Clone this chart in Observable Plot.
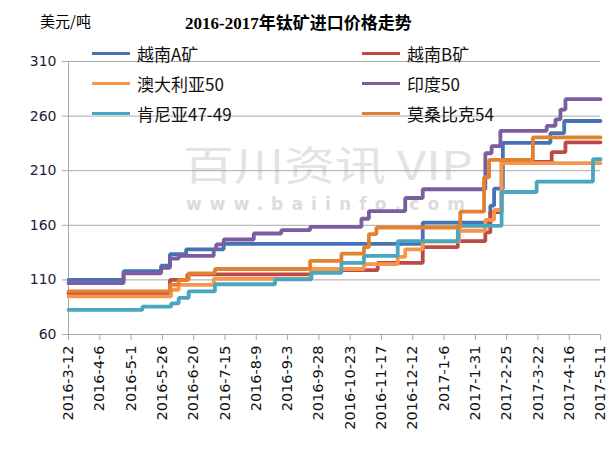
<!DOCTYPE html>
<html>
<head>
<meta charset="utf-8">
<script src="https://cdn.jsdelivr.net/npm/d3@7"></script>
<script src="https://cdn.jsdelivr.net/npm/@observablehq/plot@0.6"></script>
<style>
  body { margin: 0; background: #fff; }
  #wrap { position: relative; width: 611px; height: 455px; overflow: hidden; background: #fff; }
  #unit { position: absolute; left: 40px; top: 10px; font: 15px "Noto Sans CJK SC", sans-serif; color: #000; }
  #title { position: absolute; left: 185px; top: 9px; font: bold 17px "Liberation Serif", "Noto Sans CJK SC", serif; color: #000; white-space: nowrap; }
  #wm { position: absolute; left: 0; top: 0; z-index: 0; }
  #chart { position: absolute; left: 0; top: 40px; z-index: 1; }
  #legend { position: absolute; left: 0; top: 0; z-index: 2; width: 611px; height: 140px; }
  .lg { position: absolute; display: flex; align-items: center; font: 17px "Noto Sans CJK SC", sans-serif; color: #111; white-space: nowrap; }
  .lg span.k { display: inline-block; width: 38px; height: 3px; margin-right: 7px; }
</style>
</head>
<body>
<div id="wrap">
  <div id="unit">美元/吨</div>
  <div id="title">2016-2017年钛矿进口价格走势</div>
  <svg id="wm" width="611" height="455">
    <text x="183" y="180" textLength="290" lengthAdjust="spacingAndGlyphs" font-family="Noto Sans CJK SC" font-size="40" fill="#e3e3e3">百川资讯 VIP</text>
    <text x="186" y="210" textLength="279" lengthAdjust="spacing" font-family="DejaVu Sans" font-weight="bold" font-size="17" fill="#dcdcdc">www.baiinfo.com</text>
  </svg>
  <div id="chart"></div>
  <div id="legend"></div>
</div>
<script>
// ---- data ----
const seriesNames = ["越南A矿", "越南B矿", "澳大利亚50", "印度50", "肯尼亚47-49", "莫桑比克54"];
const seriesColors = ["#4573B5", "#BC4A47", "#F7964A", "#7B5EA0", "#48A6BF", "#E2812F"];

const vietnamA = [
  ["2016-03-12", 110], ["2016-04-25", 118], ["2016-05-25", 123], ["2016-06-01", 133.5],
  ["2016-06-14", 138], ["2016-07-14", 143], ["2016-12-20", 162.5], ["2017-02-12", 178],
  ["2017-02-15", 193.5], ["2017-02-22", 235.5], ["2017-04-01", 244.5], ["2017-04-12", 255.5]
];
const vietnamB = [
  ["2016-03-12", 98], ["2016-06-01", 110], ["2016-06-15", 115], ["2016-09-22", 119],
  ["2016-11-14", 125.5], ["2016-12-20", 140], ["2017-01-17", 145.5], ["2017-02-08", 153.5],
  ["2017-02-12", 172], ["2017-02-21", 218], ["2017-04-02", 227], ["2017-04-13", 236]
];
const australia50 = [
  ["2016-03-12", 95], ["2016-06-02", 101], ["2016-06-08", 105.5], ["2016-07-06", 111],
  ["2016-09-22", 120], ["2016-11-03", 124.5], ["2016-11-30", 131], ["2016-12-06", 138],
  ["2016-12-20", 145], ["2017-01-18", 155], ["2017-02-08", 165], ["2017-02-15", 174],
  ["2017-02-21", 217]
];
const india50 = [
  ["2016-03-12", 107], ["2016-04-25", 116], ["2016-05-25", 121], ["2016-06-01", 129.5],
  ["2016-06-08", 132], ["2016-07-06", 138], ["2016-07-08", 142.5], ["2016-07-14", 147],
  ["2016-08-07", 152.5], ["2016-08-29", 155.5], ["2016-09-21", 158.5], ["2016-11-01", 166],
  ["2016-11-07", 173], ["2016-12-06", 185], ["2016-12-20", 193], ["2017-02-08", 226],
  ["2017-02-13", 232.5], ["2017-02-20", 246.5], ["2017-03-29", 251], ["2017-04-05", 257],
  ["2017-04-09", 266], ["2017-04-13", 275.5]
];
const kenya4749 = [
  ["2016-03-12", 82.5], ["2016-05-10", 85.5], ["2016-06-02", 88.5], ["2016-06-08", 93.5],
  ["2016-06-16", 99.5], ["2016-07-07", 106], ["2016-08-24", 110.5], ["2016-09-22", 116.5],
  ["2016-10-16", 125.5], ["2016-11-03", 132], ["2016-11-30", 145.5], ["2017-01-17", 159.5],
  ["2017-02-21", 190.5], ["2017-03-21", 200], ["2017-05-05", 220.5]
];
const mozambique54 = [
  ["2016-03-12", 99.5], ["2016-06-01", 105.5], ["2016-06-08", 110], ["2016-06-16", 116],
  ["2016-07-07", 120], ["2016-09-21", 127.5], ["2016-10-16", 134], ["2016-11-03", 140],
  ["2016-11-07", 152], ["2016-11-13", 158], ["2017-01-19", 172.5], ["2017-02-07", 204],
  ["2017-02-11", 220], ["2017-03-18", 240.5]
];
const endDate = "2017-05-11";

const xTickLabels = ["2016-3-12", "2016-4-6", "2016-5-1", "2016-5-26", "2016-6-20", "2016-7-15",
  "2016-8-9", "2016-9-3", "2016-9-28", "2016-10-23", "2016-11-17", "2016-12-12", "2017-1-6",
  "2017-1-31", "2017-2-25", "2017-3-22", "2017-4-16", "2017-5-11"];
const yTicks = [60, 110, 160, 210, 260, 310];

// ---- build table ----
const seriesData = [vietnamA, vietnamB, australia50, india50, kenya4749, mozambique54];
const parse = d3.utcParse("%Y-%m-%d");
const rows = [];
seriesData.forEach((arr, i) => {
  arr.forEach(([d, v]) => rows.push({series: seriesNames[i], date: parse(d), value: v}));
  rows.push({series: seriesNames[i], date: parse(endDate), value: arr[arr.length - 1][1]});
});
const tickDates = xTickLabels.map(parse);
const fmt = d3.utcFormat("%Y-%-m-%-d");
const grid = "#a9a9a9";

const chart = Plot.plot({
  width: 611,
  height: 415,
  marginTop: 21,
  marginBottom: 121,
  marginLeft: 68,
  marginRight: 11,
  style: {background: "transparent", fontFamily: "DejaVu Sans", fontSize: "13px", color: "#000", overflow: "visible"},
  x: {type: "utc", domain: [tickDates[0], tickDates[tickDates.length - 1]]},
  y: {domain: [60, 310]},
  color: {domain: seriesNames, range: seriesColors},
  marks: [
    Plot.gridY(yTicks, {stroke: grid, strokeOpacity: 1}),
    Plot.ruleX([tickDates[0]], {stroke: grid}),
    Plot.axisY(yTicks, {tickSize: 6, tickPadding: 6, stroke: grid, fill: "#1d1d38", fontSize: 14, label: null}),
    Plot.axisX(tickDates, {tickSize: 6, tickPadding: 5, tickRotate: -90, tickFormat: fmt, stroke: grid, fill: "#111", fontSize: 14.5, label: null}),
    Plot.line(rows, {x: "date", y: "value", z: "series", stroke: "series", curve: "step-after", strokeWidth: 3.8, strokeLinejoin: "miter"})
  ]
});
document.getElementById("chart").appendChild(chart);

// ---- legend (two columns, three rows) ----
const legend = document.getElementById("legend");
seriesNames.forEach((name, i) => {
  const col = i % 2, row = Math.floor(i / 2);
  const item = document.createElement("div");
  item.className = "lg";
  item.style.left = (col ? 362 : 92) + "px";
  item.style.top = (41 + row * 30) + "px";
  item.style.height = "24px";
  const key = document.createElement("span");
  key.className = "k";
  key.style.background = seriesColors[i];
  item.appendChild(key);
  item.appendChild(document.createTextNode(name));
  legend.appendChild(item);
});
</script>
</body>
</html>
